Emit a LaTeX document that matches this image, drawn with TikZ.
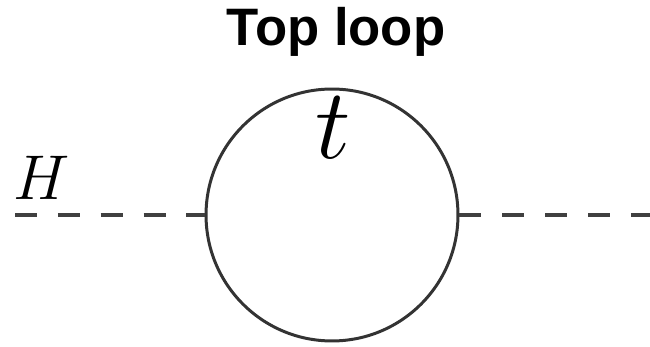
\RequirePackage{fix-cm}
\documentclass[tikz,border=0pt]{standalone}
\usepackage{fontspec}
\usepackage{amsmath}
\setsansfont{Liberation Sans}
\usetikzlibrary{positioning}

\begin{document}
\begin{tikzpicture}[x=0.02cm, y=-0.02cm,
    scalar/.style={line width=2pt, black!75, dash pattern=on 12.5pt off 11.9pt},
    fermion/.style={circle, draw=black!80, line width=1.7pt, minimum size=5.04cm, inner sep=0pt}]
    \useasboundingbox (0, 0) rectangle (650, 347);

    % Title
    \node[font=\sffamily\bfseries\fontsize{30}{33}\selectfont] (title) at (336, 32) {Top loop};

    % Top quark loop
    \node[fermion] (loop) at (332, 215) {};
    \node[font=\fontsize{57}{60}\selectfont] (tlabel) at (333, 128) {$t$};

    % Higgs legs
    \coordinate (hin) at (15, 215);
    \coordinate (hout) at (650, 215);
    \draw[scalar] (hin) -- (loop.west);
    \draw[scalar] (loop.east) -- (hout);
    \node[font=\fontsize{36}{40}\selectfont] (hlabel) at (42, 178) {$H$};
\end{tikzpicture}
\end{document}
